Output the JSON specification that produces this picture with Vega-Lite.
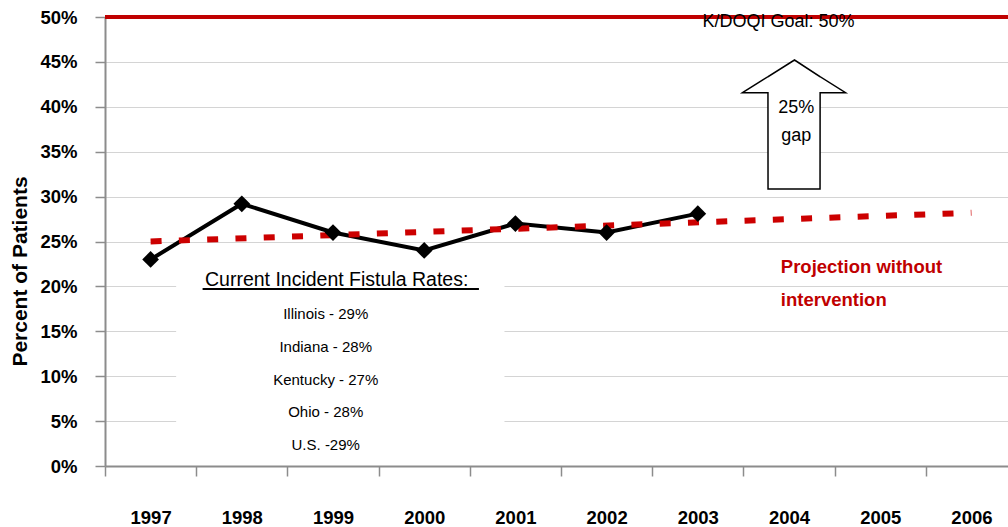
{
  "$schema": "https://vega.github.io/schema/vega-lite/v6.json",
  "width": 903,
  "height": 449,
  "autosize": {"type": "none"},
  "padding": {"left": 105, "top": 17, "right": 0, "bottom": 61},
  "background": "white",
  "config": {
    "view": {"stroke": null},
    "axis": {"domainColor": "#8c8c8c", "tickColor": "#8c8c8c", "domainWidth": 2, "tickWidth": 1.5}
  },
  "datasets": {
    "series": [
      {"year": 1997, "pct": 23},
      {"year": 1998, "pct": 29.2},
      {"year": 1999, "pct": 26},
      {"year": 2000, "pct": 24},
      {"year": 2001, "pct": 27},
      {"year": 2002, "pct": 26},
      {"year": 2003, "pct": 28.1}
    ],
    "projection": [
      {"year": 1997, "pct": 25.0},
      {"year": 2006, "pct": 28.2}
    ],
    "box": [
      {"x": 1997.28, "x2": 2000.88, "y": 22.4, "y2": 0.6}
    ],
    "arrow": [
      {"x": 2003.49, "top": 41.57, "bottom": 41.57},
      {"x": 2003.769, "top": 43.35, "bottom": 41.57},
      {"x": 2003.77, "top": 43.35, "bottom": 30.85},
      {"x": 2004.06, "top": 45.21, "bottom": 30.85},
      {"x": 2004.34, "top": 43.35, "bottom": 30.85},
      {"x": 2004.341, "top": 43.35, "bottom": 41.57},
      {"x": 2004.62, "top": 41.57, "bottom": 41.57}
    ],
    "underline": [
      {"x": 1997.57, "x2": 2000.6, "y": 19.7}
    ],
    "heading": [
      {"x": 1999.04, "y": 20.7, "label": "Current Incident Fistula Rates:"}
    ],
    "rates": [
      {"x": 1998.92, "y": 16.95, "label": "Illinois - 29%"},
      {"x": 1998.92, "y": 13.3, "label": "Indiana - 28%"},
      {"x": 1998.92, "y": 9.6, "label": "Kentucky - 27%"},
      {"x": 1998.92, "y": 6.0, "label": "Ohio - 28%"},
      {"x": 1998.92, "y": 2.3, "label": "U.S. -29%"}
    ],
    "gap": [
      {"x": 2004.08, "y": 39.85, "label": "25%"},
      {"x": 2004.08, "y": 36.75, "label": "gap"}
    ],
    "proj_label": [
      {"x": 2003.91, "y": 22.2, "label": "Projection without"},
      {"x": 2003.91, "y": 18.5, "label": "intervention"}
    ],
    "goal": [
      {"y": 50, "x": 2003.05, "ty": 49.4, "label": "K/DOQI Goal: 50%"}
    ]
  },
  "layer": [
    {
      "data": {"name": "box"},
      "mark": {"type": "rect", "fill": "white", "stroke": null},
      "encoding": {
        "x": {
          "field": "x", "type": "quantitative",
          "scale": {"domain": [1996.5, 2006.401], "nice": false, "zero": false},
          "axis": {
            "values": [1997, 1998, 1999, 2000, 2001, 2002, 2003, 2004, 2005, 2006],
            "format": "d",
            "title": null,
            "grid": false,
            "tickSize": 10,
            "tickOffset": -45.6,
            "labelOffset": 45.6,
            "labelFont": "Liberation Sans, Arial, sans-serif",
            "labelFontSize": 18.5,
            "labelFontWeight": "bold",
            "labelColor": "black",
            "labelBaseline": "middle",
            "labelPadding": 41,
            "labelFlush": false,
            "labelOverlap": false
          }
        },
        "x2": {"field": "x2"},
        "y": {
          "field": "y", "type": "quantitative",
          "scale": {"domain": [0, 50], "nice": false},
          "axis": {
            "values": [0, 5, 10, 15, 20, 25, 30, 35, 40, 45, 50],
            "labelExpr": "datum.value + '%'",
            "title": "Percent of Patients",
            "titleFont": "Liberation Sans, Arial, sans-serif",
            "titleFontSize": 21,
            "titleFontWeight": "bold",
            "titleColor": "black",
            "titleX": -79,
            "titleY": 254,
            "titleAngle": -90,
            "titleAlign": "center",
            "titleBaseline": "alphabetic",
            "grid": true,
            "gridColor": "#d4d4d4",
            "gridWidth": 1,
            "tickSize": 10,
            "labelPadding": 18,
            "labelFont": "Liberation Sans, Arial, sans-serif",
            "labelFontSize": 18.5,
            "labelFontWeight": "bold",
            "labelColor": "black",
            "labelFlush": false,
            "labelOverlap": false
          }
        },
        "y2": {"field": "y2"}
      }
    },
    {
      "data": {"name": "arrow"},
      "mark": {"type": "area", "fill": "white", "fillOpacity": 1, "stroke": "black", "strokeWidth": 1.5, "line": false},
      "encoding": {
        "x": {"field": "x", "type": "quantitative"},
        "y": {"field": "top", "type": "quantitative"},
        "y2": {"field": "bottom"}
      }
    },
    {
      "data": {"name": "goal"},
      "mark": {"type": "rule", "color": "#c00000", "strokeWidth": 4},
      "encoding": {
        "y": {"field": "y", "type": "quantitative"}
      }
    },
    {
      "data": {"name": "series"},
      "mark": {"type": "line", "color": "black", "strokeWidth": 4},
      "encoding": {
        "x": {"field": "year", "type": "quantitative"},
        "y": {"field": "pct", "type": "quantitative"}
      }
    },
    {
      "data": {"name": "projection"},
      "mark": {"type": "line", "color": "#cc0000", "strokeWidth": 6, "strokeDash": [11, 17.3], "strokeCap": "butt"},
      "encoding": {
        "x": {"field": "year", "type": "quantitative"},
        "y": {"field": "pct", "type": "quantitative"}
      }
    },
    {
      "data": {"name": "series"},
      "mark": {"type": "point", "shape": "diamond", "filled": true, "color": "black", "size": 280, "opacity": 1},
      "encoding": {
        "x": {"field": "year", "type": "quantitative"},
        "y": {"field": "pct", "type": "quantitative"}
      }
    },
    {
      "data": {"name": "underline"},
      "mark": {"type": "rule", "color": "black", "strokeWidth": 2},
      "encoding": {
        "x": {"field": "x", "type": "quantitative"},
        "x2": {"field": "x2"},
        "y": {"field": "y", "type": "quantitative"}
      }
    },
    {
      "data": {"name": "heading"},
      "mark": {"type": "text", "align": "center", "baseline": "middle", "font": "Liberation Sans, Arial, sans-serif", "fontSize": 19.5, "fontWeight": "normal", "color": "black"},
      "encoding": {
        "x": {"field": "x", "type": "quantitative"},
        "y": {"field": "y", "type": "quantitative"},
        "text": {"field": "label"}
      }
    },
    {
      "data": {"name": "rates"},
      "mark": {"type": "text", "align": "center", "baseline": "middle", "font": "Liberation Sans, Arial, sans-serif", "fontSize": 15, "color": "black"},
      "encoding": {
        "x": {"field": "x", "type": "quantitative"},
        "y": {"field": "y", "type": "quantitative"},
        "text": {"field": "label"}
      }
    },
    {
      "data": {"name": "gap"},
      "mark": {"type": "text", "align": "center", "baseline": "middle", "font": "Liberation Sans, Arial, sans-serif", "fontSize": 18, "color": "black"},
      "encoding": {
        "x": {"field": "x", "type": "quantitative"},
        "y": {"field": "y", "type": "quantitative"},
        "text": {"field": "label"}
      }
    },
    {
      "data": {"name": "proj_label"},
      "mark": {"type": "text", "align": "left", "baseline": "middle", "font": "Liberation Sans, Arial, sans-serif", "fontSize": 18.5, "fontWeight": "bold", "color": "#c00000"},
      "encoding": {
        "x": {"field": "x", "type": "quantitative"},
        "y": {"field": "y", "type": "quantitative"},
        "text": {"field": "label"}
      }
    },
    {
      "data": {"name": "goal"},
      "mark": {"type": "text", "align": "left", "baseline": "middle", "font": "Liberation Sans, Arial, sans-serif", "fontSize": 18, "color": "black"},
      "encoding": {
        "x": {"field": "x", "type": "quantitative"},
        "y": {"field": "ty", "type": "quantitative"},
        "text": {"field": "label"}
      }
    }
  ]
}
